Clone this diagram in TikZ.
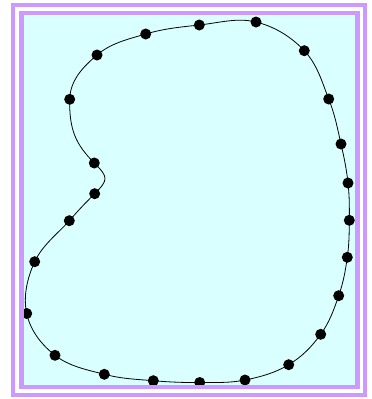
\documentclass[tikz,border=0pt]{standalone}
\usepackage{tikz}
\usetikzlibrary{calc}
\definecolor{lav}{RGB}{204,153,255}
\definecolor{lcyan}{RGB}{217,255,255}
\begin{document}
\begin{tikzpicture}[x=1pt,y=-1pt,
  dotmark/.style={circle,fill=black,inner sep=0pt,minimum size=11pt},
  band/.style={draw=lav,line width=4.3pt}]
\useasboundingbox (0,0) rectangle (372,399);
\fill[white] (0,0) rectangle (372,399);
\fill[lcyan] (21.5,13) rectangle (357.5,387.2);
\coordinate (p1) at (199.3,25);
\coordinate (p2) at (256,22);
\coordinate (p3) at (304.3,50.7);
\coordinate (p4) at (328.7,99);
\coordinate (p5) at (341,144);
\coordinate (p6) at (348,183);
\coordinate (p7) at (349.3,220.3);
\coordinate (p8) at (347.3,257.3);
\coordinate (p9) at (338.7,295.7);
\coordinate (p10) at (320.7,334.3);
\coordinate (p11) at (288.7,364.7);
\coordinate (p12) at (245,380);
\coordinate (p13) at (199.7,382.5);
\coordinate (p14) at (153.3,380.7);
\coordinate (p15) at (104.3,374.3);
\coordinate (p16) at (55,355.3);
\coordinate (p17) at (26.7,313.5);
\coordinate (p18) at (34.7,261.7);
\coordinate (p19) at (69.3,220.7);
\coordinate (p20) at (94.7,193.7);
\coordinate (p21) at (94.3,163);
\coordinate (p22) at (69.7,99.3);
\coordinate (p23) at (97,55);
\coordinate (p24) at (145.7,34);
\foreach \i/\a/\b in {1/24/2,2/1/3,3/2/4,4/3/5,5/4/6,6/5/7,7/6/8,8/7/9,9/8/10,10/9/11,11/10/12,12/11/13,13/12/14,14/13/15,15/14/16,16/15/17,17/16/18,18/17/19,19/18/20,20/19/21,21/20/22,22/21/23,23/22/24,24/23/1}{
  \coordinate (o\i) at ($(p\i)+0.18*(p\b)-0.18*(p\a)$);
  \coordinate (n\i) at ($(p\i)-0.18*(p\b)+0.18*(p\a)$);
}
% local shaping of the hook between p20, p21 and p22
\coordinate (n20) at ($(p20)+(-11,11)$);
\coordinate (o20) at ($(p20)+(14,-14)$);
\coordinate (n21) at ($(p21)+(14,14)$);
\coordinate (o21) at ($(p21)+(-19,-19)$);
\coordinate (n22) at ($(p22)+(-0.5,30)$);
\draw[line width=0.8pt] (p1)
  \foreach \i/\j in {1/2,2/3,3/4,4/5,5/6,6/7,7/8,8/9,9/10,10/11,11/12,12/13,13/14,14/15,15/16,16/17,17/18,18/19,19/20,20/21,21/22,22/23,23/24,24/1}{
    .. controls (o\i) and (n\j) .. (p\j)} -- cycle;
\foreach \i in {1,...,24} \node[dotmark] (d\i) at (p\i) {};
\fill[white] (15,7.3) rectangle (362.5,11) (15,7.3) rectangle (19,392.7) (355.5,7.3) rectangle (362.5,392.7) (15,389.3) rectangle (362.5,392.7);
\draw[band] (21.5,13) rectangle (357.5,387.2);
\draw[band] (13,5.3) rectangle (365.3,395);
\end{tikzpicture}
\end{document}
